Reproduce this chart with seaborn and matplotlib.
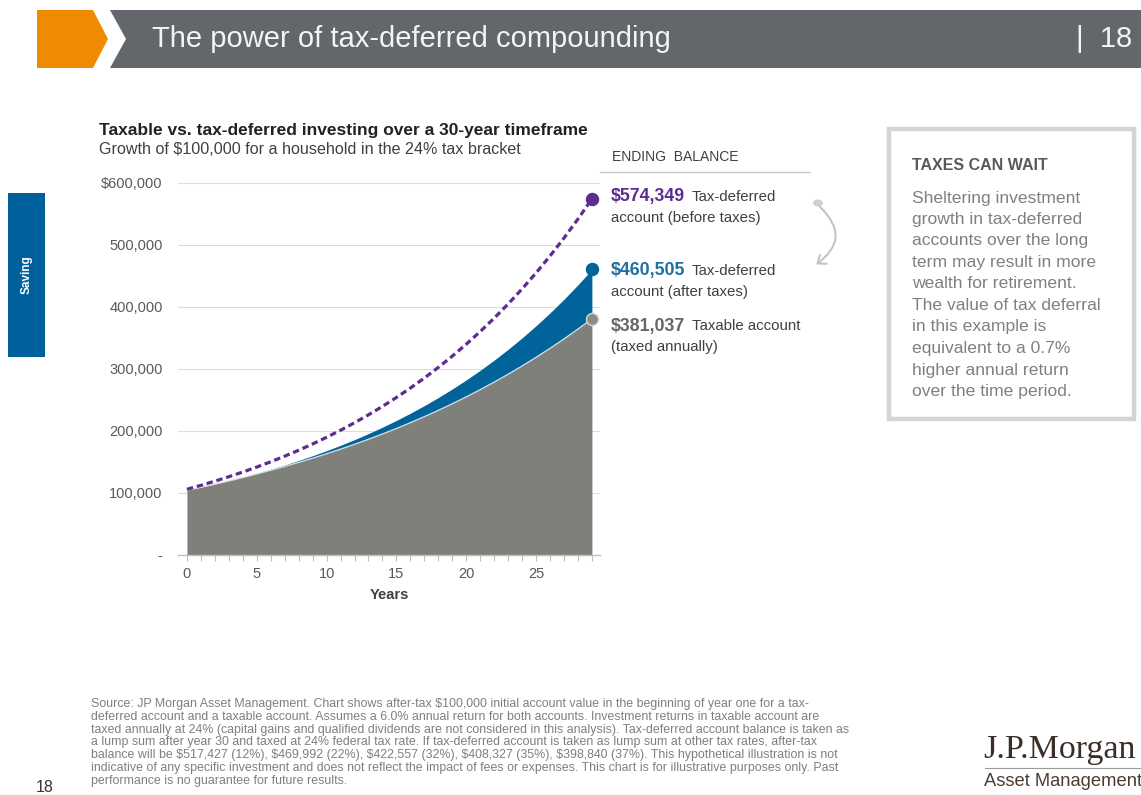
import matplotlib
matplotlib.use("Agg")
import matplotlib.pyplot as plt
import seaborn as sns
import pandas as pd
from matplotlib.patches import Polygon, Rectangle, FancyArrowPatch, Circle
from matplotlib.ticker import FixedLocator

# ---------------- data ----------------
years = list(range(0, 30))
tax_deferred_before = [106000, 112360, 119102, 126248, 133823, 141852, 150363, 159385,
                       168948, 179085, 189830, 201220, 213293, 226090, 239656, 254035,
                       269277, 285434, 302560, 320714, 339956, 360354, 381975, 404893,
                       429187, 454938, 482235, 511169, 541839, 574349]
tax_deferred_after = [104560, 109394, 114518, 119948, 125705, 131808, 138276, 145133,
                      152400, 160105, 168271, 176927, 186103, 195828, 206139, 217067,
                      228651, 240930, 253946, 267743, 282367, 297869, 314301, 331719,
                      350182, 369753, 390499, 412488, 435798, 460505]
taxable = [104560, 109328, 114313, 119526, 124976, 130675, 136634, 142864,
           149379, 156190, 163313, 170760, 178547, 186688, 195201, 204103,
           213410, 223141, 233316, 243956, 255080, 266712, 278874, 291590,
           304887, 318789, 333326, 348526, 364418, 381037]
y_ticks = [0, 100000, 200000, 300000, 400000, 500000, 600000]
y_tick_labels = ["-", "100,000", "200,000", "300,000", "400,000", "500,000", "$600,000"]
x_ticks = [0, 5, 10, 15, 20, 25]
end_labels = ["$574,349", "$460,505", "$381,037"]

df = pd.DataFrame({"year": years, "before": tax_deferred_before,
                   "after": tax_deferred_after, "taxable": taxable})

# ---------------- style ----------------
sns.set_theme(style="white")
plt.rcParams["font.family"] = ["Liberation Sans", "DejaVu Sans"]

PURPLE = "#5c2d91"
BLUE = "#00649a"
GRAY_AREA = "#7f807a"
BANNER = "#63666a"
ORANGE = "#ee8b00"
TXT = "#404040"

W, H = 1141, 795
fig = plt.figure(figsize=(W / 100, H / 100), dpi=100)


def fx(x):
    return x / W


def fy(y):
    return 1 - y / H


# ---------------- banner ----------------
fig.patches.append(Polygon([(fx(37), fy(10)), (fx(93), fy(10)), (fx(108), fy(39)),
                            (fx(93), fy(68)), (fx(37), fy(68))], closed=True,
                           transform=fig.transFigure, facecolor=ORANGE, edgecolor="none"))
fig.patches.append(Polygon([(fx(110), fy(10)), (fx(W), fy(10)), (fx(W), fy(68)),
                            (fx(110), fy(68)), (fx(126), fy(39))], closed=True,
                           transform=fig.transFigure, facecolor=BANNER, edgecolor="none"))
fig.text(fx(152), fy(39), "The power of tax-deferred compounding", color="#f4f4f4",
         fontsize=21, va="center", ha="left")
fig.text(fx(1076), fy(39), "|  18", color="#f4f4f4", fontsize=21, va="center", ha="left")

# ---------------- left tab ----------------
fig.patches.append(Rectangle((fx(8), fy(357)), fx(45) - fx(8), fy(193) - fy(357),
                             transform=fig.transFigure, facecolor="#00609c", edgecolor="none"))
fig.text(fx(27), fy(275), "Saving", rotation=90, color="white", fontsize=8.5,
         fontweight="bold", ha="center", va="center")

# ---------------- chart titles ----------------
fig.text(fx(99), fy(130), "Taxable vs. tax-deferred investing over a 30-year timeframe",
         fontsize=12.5, fontweight="bold", color="#222222", va="center", ha="left")
fig.text(fx(99), fy(150), "Growth of $100,000 for a household in the 24% tax bracket",
         fontsize=11.6, color=TXT, va="center", ha="left")

# ---------------- axes ----------------
ax = fig.add_axes([fx(178), fy(555), fx(600) - fx(178), (555 - 170.6) / H])
ax.set_xlim(-0.64, 29.58)
ax.set_ylim(0, 620000)

ax.fill_between(df["year"], 0, df["taxable"], color=GRAY_AREA, linewidth=0, zorder=2)
ax.fill_between(df["year"], df["taxable"], df["after"], color=BLUE, linewidth=0, zorder=2)
sns.lineplot(data=df, x="year", y="taxable", ax=ax, color="#dedede", linewidth=0.9, zorder=3)
sns.lineplot(data=df, x="year", y="before", ax=ax, color=PURPLE, linewidth=2.3, zorder=4)
ax.lines[-1].set_dashes([2.0, 1.2])

for val, col, ec in zip([tax_deferred_before[-1], tax_deferred_after[-1], taxable[-1]],
                        [PURPLE, BLUE, "#8a8a86"], [PURPLE, BLUE, "#d6d6d6"]):
    ax.scatter([years[-1]], [val], s=75, color=col, edgecolor=ec, linewidth=1.0,
               zorder=6, clip_on=False)

ax.set_yticks(y_ticks)
ax.set_yticklabels(y_tick_labels)
ax.yaxis.grid(True, color="#dcdcdc", linewidth=0.8)
ax.xaxis.grid(False)
ax.set_axisbelow(True)
ax.set_xticks(x_ticks)
ax.xaxis.set_minor_locator(FixedLocator(years))
ax.tick_params(axis="y", length=0, pad=11, labelsize=10.5, labelcolor="#595959")
ax.tick_params(axis="x", which="major", length=4, width=0.8, color="#bfbfbf", pad=5,
               labelsize=10.5, labelcolor="#595959", bottom=True)
ax.tick_params(axis="x", which="minor", length=4, width=0.8, color="#bfbfbf", bottom=True)
for s in ["top", "right", "left"]:
    ax.spines[s].set_visible(False)
ax.spines["bottom"].set_color("#bfbfbf")
ax.spines["bottom"].set_linewidth(1.0)
ax.set_xlabel("Years", fontsize=10.5, fontweight="bold", color=TXT, labelpad=5)
ax.set_ylabel("")

# ---------------- ending balance labels ----------------
fig.text(fx(612), fy(157), "ENDING  BALANCE", fontsize=10, color=TXT, va="center", ha="left")
fig.add_artist(plt.Line2D([fx(600), fx(810)], [fy(172), fy(172)], color="#c8c8c8",
                          linewidth=1.0, transform=fig.transFigure))

lab_rows = [(197, end_labels[0], PURPLE, "Tax-deferred", "account (before taxes)"),
            (271, end_labels[1], "#1f6fa3", "Tax-deferred", "account (after taxes)"),
            (326, end_labels[2], "#666666", "Taxable account", "(taxed annually)")]
for yy, val, col, t1, t2 in lab_rows:
    fig.text(fx(611), fy(yy), val, fontsize=12.8, fontweight="bold", color=col,
             va="center", ha="left")
    fig.text(fx(692), fy(yy), t1, fontsize=10.8, color=TXT, va="center", ha="left")
    fig.text(fx(611), fy(yy + 21), t2, fontsize=10.8, color=TXT, va="center", ha="left")

# curved arrow
fig.patches.append(Circle((fx(818), fy(203)), radius=5 / W, transform=fig.transFigure,
                          facecolor="#d0d0d0", edgecolor="none"))
arr = FancyArrowPatch((fx(818), fy(205)), (fx(814), fy(266)), transform=fig.transFigure,
                      connectionstyle="arc3,rad=-0.63", arrowstyle="->,head_length=5,head_width=4",
                      color="#c4c4c4", linewidth=1.5)
fig.patches.append(arr)

# ---------------- right box ----------------
fig.patches.append(Rectangle((fx(889), fy(419)), fx(1134) - fx(889), fy(129) - fy(419),
                             transform=fig.transFigure, facecolor="white",
                             edgecolor="#d4d4d4", linewidth=3.2))
fig.text(fx(912), fy(166), "TAXES CAN WAIT", fontsize=11.5, fontweight="bold",
         color="#595959", va="center", ha="left")
box_lines = ["Sheltering investment", "growth in tax-deferred", "accounts over the long",
             "term may result in more", "wealth for retirement.", "The value of tax deferral",
             "in this example is", "equivalent to a 0.7%", "higher annual return",
             "over the time period."]
for i, line in enumerate(box_lines):
    fig.text(fx(912), fy(198 + i * 21.5), line, fontsize=12.6, color="#808080",
             va="center", ha="left")

# ---------------- footnote ----------------
foot = [
    "Source: JP Morgan Asset Management. Chart shows after-tax $100,000 initial account value in the beginning of year one for a tax-",
    "deferred account and a taxable account. Assumes a 6.0% annual return for both accounts. Investment returns in taxable account are",
    "taxed annually at 24% (capital gains and qualified dividends are not considered in this analysis). Tax-deferred account balance is taken as",
    "a lump sum after year 30 and taxed at 24% federal tax rate. If tax-deferred account is taken as lump sum at other tax rates, after-tax",
    "balance will be $517,427 (12%), $469,992 (22%), $422,557 (32%), $408,327 (35%), $398,840 (37%). This hypothetical illustration is not",
    "indicative of any specific investment and does not reflect the impact of fees or expenses. This chart is for illustrative purposes only. Past",
    "performance is no guarantee for future results.",
]
for i, line in enumerate(foot):
    fig.text(fx(91), fy(704 + i * 12.8), line, fontsize=8.9, color="#7f7f7f",
             va="center", ha="left")

fig.text(fx(36), fy(787), "18", fontsize=11.5, color="#333333", va="center", ha="left")

# ---------------- logo ----------------
fig.text(fx(983), fy(750), "J.P.Morgan", fontsize=24.5, color="#3b2e29",
         family=["Liberation Serif", "DejaVu Serif"], va="center", ha="left")
fig.add_artist(plt.Line2D([fx(985), fx(W)], [fy(768), fy(768)], color="#9a9a9a",
                          linewidth=0.8, transform=fig.transFigure))
fig.text(fx(984), fy(782), "Asset Management", fontsize=13.2, color="#4a3d36",
         fontstretch="condensed", va="center", ha="left")

fig.savefig("out.png", dpi=100)
